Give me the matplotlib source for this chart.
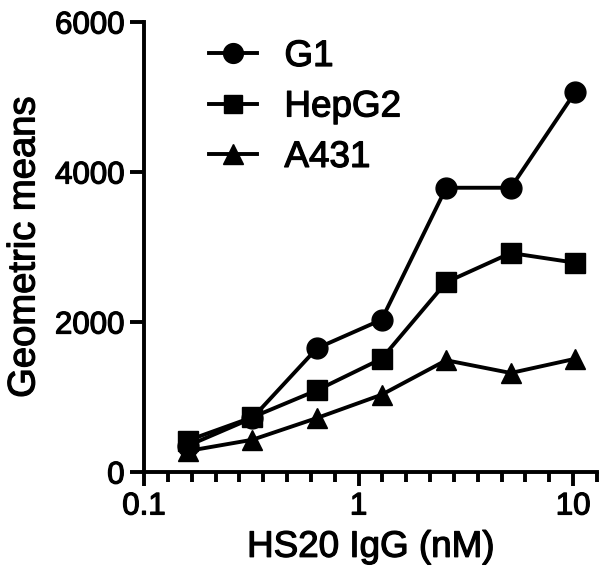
import matplotlib
matplotlib.use("Agg")
import matplotlib.pyplot as plt
import matplotlib.patheffects as pe
import numpy as np

plt.rcParams['font.family'] = ['Liberation Sans', 'DejaVu Sans']

conc = [0.16, 0.32, 0.64, 1.28, 2.56, 5.12, 10.24]
g1 = [350, 720, 1650, 2030, 3790, 3790, 5070]
hepg2 = [420, 730, 1090, 1510, 2530, 2920, 2790]
a431 = [280, 430, 720, 1030, 1490, 1320, 1510]

series = [
    ("G1", g1, "o", 15),
    ("HepG2", hepg2, "s", 14),
    ("A431", a431, "^", 15),
]

# slightly heavier text, like the original export
thick = [pe.withStroke(linewidth=0.9, foreground="black")]

fig = plt.figure(figsize=(6.05, 5.85), dpi=100)
ax = fig.add_axes([144/605, 1 - 472/585, (597-144)/605, (472-22)/585])

for name, vals, mk, ms in series:
    ax.plot(conc, vals, color="black", lw=2.8, marker=mk, markersize=ms,
            label=name)

ax.set_xscale("log")
ax.set_xlim(0.1, 10**(1 + 1/9))
ax.set_ylim(0, 6000)
ax.set_xticks([0.1, 1, 10])
ax.set_xticklabels(["0.1", "1", "10"])
ax.set_yticks([0, 2000, 4000, 6000])
# prism style minor ticks, evenly spaced
ax.set_xticks(10**(np.arange(-9, 11) / 9), minor=True)
ax.xaxis.set_minor_formatter(matplotlib.ticker.NullFormatter())
ax.yaxis.set_minor_locator(matplotlib.ticker.NullLocator())

for s in ["top", "right"]:
    ax.spines[s].set_visible(False)
for s in ["left", "bottom"]:
    ax.spines[s].set_linewidth(2.8)

ax.tick_params(which="major", direction="out", length=10, width=2.8,
               labelsize=22.5, pad=4)
ax.tick_params(which="minor", direction="out", length=7, width=2.8)
for lab in ax.get_xticklabels() + ax.get_yticklabels():
    lab.set_path_effects(thick)

ax.set_xlabel("HS20 IgG (nM)", fontsize=26.5, labelpad=6, path_effects=thick)
ax.set_ylabel("Geometric means", fontsize=27.5, labelpad=9, path_effects=thick)

leg = ax.legend(loc="upper left", bbox_to_anchor=(209/605, 1 - 39/585),
                bbox_transform=fig.transFigure, frameon=False, fontsize=26.5,
                handlelength=1.3, handletextpad=0.75, labelspacing=0.42,
                borderpad=0, borderaxespad=0, markerscale=0.95)
for t in leg.get_texts():
    t.set_path_effects(thick)

fig.savefig("out.png", dpi=100)
